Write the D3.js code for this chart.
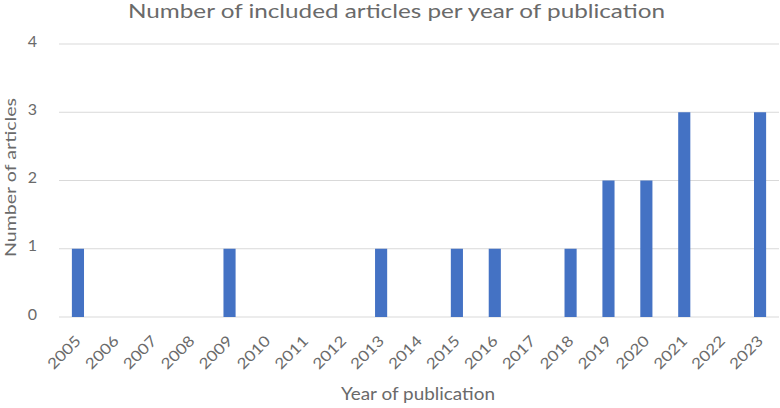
<!DOCTYPE html>
<html><head><meta charset="utf-8">
<script src="https://cdn.jsdelivr.net/npm/d3@7/dist/d3.min.js"></script>
<style>body{margin:0;background:#fff}svg{display:block}</style>
</head><body>
<svg id="c" width="780" height="408"></svg>
<script>
const years = ["2005","2006","2007","2008","2009","2010","2011","2012","2013","2014","2015","2016","2017","2018","2019","2020","2021","2022","2023"];
const counts = [1,0,0,0,1,0,0,0,1,0,1,1,0,1,2,2,3,0,3];
const yTicks = [0,1,2,3,4];

const svg = d3.select("#c");
const font = "Lato, 'Open Sans', sans-serif";
const m = {l:59, r:1, t:44, b:91};
const W = 780, H = 408;
const x = d3.scaleBand().domain(years).range([m.l, W - m.r]).paddingInner(0.68).paddingOuter(0.34);
const y = d3.scaleLinear().domain([0,4]).range([H - m.b, m.t]);
const txt = "#6a6a6a";

// gridlines
svg.append("g").selectAll("line").data(yTicks).join("line")
  .attr("x1", m.l).attr("x2", W - m.r)
  .attr("y1", d => y(d)).attr("y2", d => y(d))
  .attr("stroke", "#d9d9d9").attr("stroke-width", 1.2);

// y tick labels
svg.append("g").selectAll("text").data(yTicks).join("text")
  .attr("x", 37).attr("y", d => y(d) - 3).attr("dy", "0.35em")
  .attr("text-anchor", "end").attr("font-family", font).attr("font-size", 16)
  .attr("fill", txt).text(d => d);

// bars
svg.append("g").selectAll("rect").data(years).join("rect")
  .attr("x", d => x(d)).attr("width", x.bandwidth())
  .attr("y", (d,i) => y(counts[i])).attr("height", (d,i) => y(0) - y(counts[i]))
  .attr("fill", "#4472c4");

// x tick labels
svg.append("g").selectAll("text").data(years).join("text")
  .attr("transform", d => `translate(${x(d) + x.bandwidth()/2 + 4},${y(0) + 25}) rotate(-45)`)
  .attr("text-anchor", "end")
  .attr("font-family", font).attr("font-size", 15).attr("fill", txt)
  .attr("textLength", 40).attr("lengthAdjust", "spacingAndGlyphs")
  .text(d => d);

// title
svg.append("text").attr("x", 396.5).attr("y", 18).attr("text-anchor", "middle")
  .attr("font-family", font).attr("font-size", 19.5).attr("fill", txt)
  .attr("textLength", 537).attr("lengthAdjust", "spacingAndGlyphs")
  .text("Number of included articles per year of publication");

// axis titles
svg.append("text").attr("x", 418).attr("y", 400).attr("text-anchor", "middle")
  .attr("font-family", font).attr("font-size", 16.5).attr("fill", txt)
  .attr("textLength", 154).attr("lengthAdjust", "spacingAndGlyphs")
  .text("Year of publication");
svg.append("text").attr("transform", `translate(15.5,177.5) rotate(-90)`)
  .attr("text-anchor", "middle")
  .attr("font-family", font).attr("font-size", 16).attr("fill", txt)
  .attr("textLength", 159).attr("lengthAdjust", "spacingAndGlyphs")
  .text("Number of articles");
</script>
</body></html>
